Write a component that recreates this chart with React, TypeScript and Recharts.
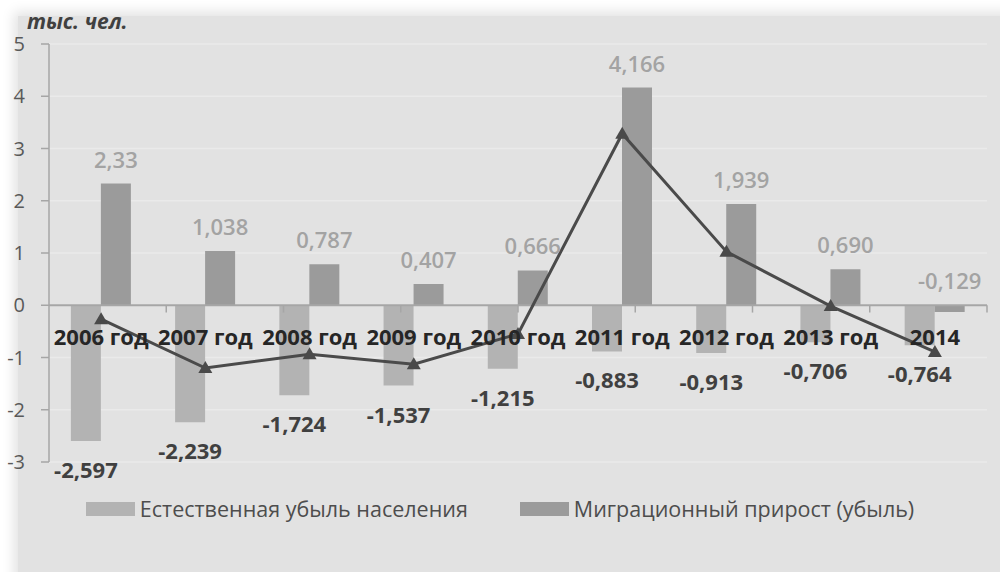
import {
  Bar,
  CartesianGrid,
  ComposedChart,
  LabelList,
  Legend,
  Line,
  ReferenceLine,
  XAxis,
  YAxis,
} from 'recharts';

const years = ['2006 год', '2007 год', '2008 год', '2009 год', '2010 год', '2011 год', '2012 год', '2013 год', '2014'];
const naturalLoss = [-2.597, -2.239, -1.724, -1.537, -1.215, -0.883, -0.913, -0.706, -0.764];
const migration = [2.33, 1.038, 0.787, 0.407, 0.666, 4.166, 1.939, 0.69, -0.129];
const total = [-0.267, -1.201, -0.937, -1.13, -0.549, 3.283, 1.026, -0.016, -0.893];
const lossLabels = ['-2,597', '-2,239', '-1,724', '-1,537', '-1,215', '-0,883', '-0,913', '-0,706', '-0,764'];
const migrationLabels = ['2,33', '1,038', '0,787', '0,407', '0,666', '4,166', '1,939', '0,690', '-0,129'];
const yTicks = [-3, -2, -1, 0, 1, 2, 3, 4, 5];
const boundaries = [1, 2, 3, 4, 5, 6, 7, 8, 9];

const data = years.map((year, i) => ({
  year,
  loss: naturalLoss[i],
  migration: migration[i],
  total: total[i],
  lossLabel: lossLabels[i],
  migLabel: migrationLabels[i],
}));

const FONT = '"Open Sans", sans-serif';
const LIGHT = '#b3b3b3';
const DARK = '#9b9b9b';
const LINE = '#4a4a4a';

function TopLabel(props: any) {
  const { x, y, width, height, value } = props;
  const top = Math.min(y, y + height);
  return (
    <text x={x + width / 2} y={top - 16} textAnchor="middle" fill="#a3a3a3" fontSize={22} fontWeight={600} fontFamily={FONT}>
      {value}
    </text>
  );
}

function BottomLabel(props: any) {
  const { x, y, width, height, value } = props;
  const bottom = Math.max(y, y + height);
  return (
    <text x={x + width / 2} y={bottom + 37} textAnchor="middle" fill="#404040" fontSize={22} fontWeight={700} fontFamily={FONT}>
      {value}
    </text>
  );
}

function YearLabel(props: any) {
  const { x, y, value } = props;
  return (
    <text x={x} y={y + 40} textAnchor="middle" fill="#262626" fontSize={22} fontWeight={700} fontFamily={FONT}>
      {value}
    </text>
  );
}

function UnitLabel(props: any) {
  const { viewBox } = props;
  return (
    <text x={viewBox.x + 27} y={viewBox.y - 15} fill="#404040" fontSize={21} fontWeight={700} fontStyle="italic" fontFamily={FONT}>
      тыс. чел.
    </text>
  );
}

function Triangle(props: any) {
  const { cx, cy } = props;
  if (cx == null || cy == null) return null;
  return <path d={`M${cx},${cy - 7} L${cx + 7},${cy + 5} L${cx - 7},${cy + 5} Z`} fill={LINE} />;
}

function LegendContent(props: any) {
  const items = (props.payload || []).filter((p: any) => p.type !== 'none');
  return (
    <div style={{ display: 'flex', justifyContent: 'center', gap: 52, fontFamily: FONT, fontSize: 21.5, color: '#4d4d4d' }}>
      {items.map((p: any) => (
        <div key={p.value} style={{ display: 'flex', alignItems: 'center' }}>
          <span style={{ width: 49, height: 14, background: p.color, marginRight: 5, display: 'inline-block' }} />
          <span>{p.value}</span>
        </div>
      ))}
    </div>
  );
}

export default function App() {
  return (
    <div style={{ position: 'absolute', left: 0, top: 0, width: 1000, height: 572, background: '#fff', overflow: 'hidden' }}>
      <div
        style={{
          position: 'absolute',
          left: 18,
          top: 16,
          right: -30,
          bottom: -30,
          background: '#e2e2e2',
          boxShadow: '0 0 12px 4px #e2e2e2',
        }}
      />
      <div style={{ position: 'absolute', left: 0, top: 0 }}>
        <ComposedChart
          width={1000}
          height={572}
          data={data}
          margin={{ top: 44, right: 13, bottom: 81, left: 0 }}
          barCategoryGap="21%"
          barGap={0}
        >
          <CartesianGrid vertical={false} stroke="#eaeaea" strokeWidth={1.5} />
          <XAxis dataKey="year" hide />
          <XAxis xAxisId="num" type="number" domain={[0, 9]} hide />
          <YAxis
            width={49}
            domain={[-3, 5]}
            ticks={yTicks}
            interval={0}
            axisLine={{ stroke: '#a6a6a6', strokeWidth: 1.5 }}
            tickLine={{ stroke: '#a6a6a6', strokeWidth: 1.5 }}
            tickSize={8}
            tickMargin={16}
            tick={{ fontSize: 20, fill: '#595959', fontFamily: FONT }}
            label={<UnitLabel />}
          />
          <Bar dataKey="loss" name="Естественная убыль населения" fill={LIGHT} isAnimationActive={false}>
            <LabelList dataKey="lossLabel" content={BottomLabel} />
          </Bar>
          <Bar dataKey="migration" name="Миграционный прирост (убыль)" fill={DARK} isAnimationActive={false}>
            <LabelList dataKey="migLabel" content={TopLabel} />
          </Bar>
          <ReferenceLine y={0} stroke="#a6a6a6" strokeWidth={2} />
          {boundaries.map((b) => (
            <ReferenceLine
              key={b}
              xAxisId="num"
              segment={[
                { x: b, y: 0 },
                { x: b, y: -0.14 },
              ]}
              stroke="#a6a6a6"
              strokeWidth={1.5}
            />
          ))}
          <Line
            dataKey={() => 0}
            stroke="none"
            dot={false}
            activeDot={false}
            legendType="none"
            isAnimationActive={false}
          >
            <LabelList dataKey="year" content={YearLabel} />
          </Line>
          <Line
            dataKey="total"
            stroke={LINE}
            strokeWidth={3}
            dot={<Triangle />}
            activeDot={false}
            legendType="none"
            isAnimationActive={false}
          />
          <Legend
            content={<LegendContent />}
            wrapperStyle={{ position: 'absolute', left: 0, top: 494, width: 1000 }}
          />
        </ComposedChart>
      </div>
    </div>
  );
}
